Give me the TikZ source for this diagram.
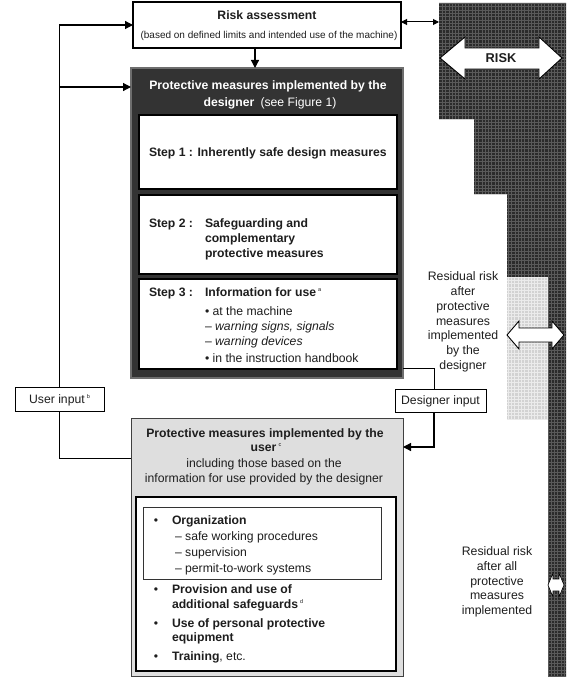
\documentclass[tikz,border=0pt]{standalone}
\usepackage{fontspec}
\setmainfont{Liberation Sans}
\usetikzlibrary{arrows.meta,calc}

\definecolor{panel}{HTML}{333333}
\definecolor{panelrim}{HTML}{6E6E6E}
\definecolor{userfill}{HTML}{DEDEDE}
\definecolor{riskdark}{HTML}{2B2B2B}
\definecolor{riskgrid}{HTML}{5A5A5A}
\definecolor{risklight}{HTML}{D2D2D2}
\definecolor{inktext}{HTML}{1E1E1E}

% small raised footnote marker
\newcommand\fnmk[1]{\raisebox{5pt}{\fontsize{5.5}{6}\selectfont #1}}

\begin{document}
\begin{tikzpicture}[x=1pt,y=-1pt,
  every node/.style={inner sep=0pt, outer sep=0pt, text=inktext},
  txt/.style={font=\fontsize{12.2}{15}\selectfont},
  btxt/.style={font=\fontsize{12.2}{15}\selectfont\bfseries},
  small/.style={font=\fontsize{10}{12}\selectfont},
  side/.style={font=\fontsize{12.3}{14.8}\selectfont, align=center},
  frame/.style={draw=black, line width=1.1pt, fill=white, anchor=north west},
  stepbox/.style={draw=black, line width=1.4pt, fill=white, anchor=north west},
  arr/.style={line width=1.2pt, -{Triangle[length=8pt,width=8pt]}},
  ln/.style={line width=0.9pt},
  dbl/.style={line width=1pt, {Triangle[length=6pt,width=6pt]}-{Triangle[length=6pt,width=6pt]}},
  bigarrow/.style={draw=black, line width=0.9pt, fill=white, line join=miter}
]
\useasboundingbox (0,0) rectangle (581,677);

% ---------- risk column on the right ----------
\fill[riskdark] (439,3) -- (566,3) -- (566,677) -- (548,677) -- (548,277)
  -- (507,277) -- (507,194) -- (474,194) -- (474,119) -- (439,119) -- cycle;
\begin{scope}
  \clip (439,3) -- (566,3) -- (566,677) -- (548,677) -- (548,277)
    -- (507,277) -- (507,194) -- (474,194) -- (474,119) -- (439,119) -- cycle;
  \draw[riskgrid, line width=0.45pt] (439,677) grid[step=3.3pt] (566,3);
\end{scope}
\fill[risklight] (507,277) rectangle (548,420);
\begin{scope}
  \clip (507,277) rectangle (548,420);
  \draw[white!92!black, line width=0.9pt] (507,420) grid[step=3.3pt] (548,277);
\end{scope}

% double arrows inside the column
\draw[bigarrow] (440,58) -- (465,37) -- (465,48) -- (539,48) -- (539,37) -- (562,58)
  -- (539,79) -- (539,69) -- (465,69) -- (465,79) -- cycle;
\node[font=\fontsize{12.8}{14}\selectfont\bfseries, anchor=base] (risk) at (501,63) {RISK};
\draw[bigarrow] (507,335) -- (519,321) -- (519,328) -- (552,328) -- (552,321) -- (564,335)
  -- (552,349) -- (552,342) -- (519,342) -- (519,349) -- cycle;
\draw[bigarrow, line width=0.6pt] (548,585) -- (553,573) -- (553,579) -- (559,579) -- (559,573)
  -- (564,585) -- (559,597) -- (559,591) -- (553,591) -- (553,597) -- cycle;

% residual risk labels
\node[side] (res1) at (463,322) {Residual risk\\after\\protective\\measures\\implemented\\by the\\designer};
\node[side] (res2) at (497,582) {Residual risk\\after all\\protective\\measures\\implemented};

% ---------- risk assessment ----------
\node[frame, minimum width=268pt, minimum height=46pt] (ra) at (133,2) {};
\node[btxt, anchor=base] (ra1) at (267,20) {Risk assessment};
\node[small, anchor=base] (ra2) at (269,38) {(based on defined limits and intended use of the machine)};
\coordinate (rk) at (439,22);
\draw[dbl] (ra.east |- rk) -- (rk);

% ---------- designer panel ----------
\node[draw=panelrim, line width=1.2pt, fill=panel, anchor=north west,
      minimum width=272pt, minimum height=310pt] (dz) at (131,68) {};
\node[btxt, text=white, anchor=base] (dz1) at (268,89)
  {Protective measures implemented by the};
\node[txt, text=white, anchor=base] (dz2) at (270,106)
  {\textbf{designer}\enspace (see Figure 1)};

\node[stepbox, minimum width=258pt, minimum height=74pt] (s1) at (139,115) {};
\node[btxt, anchor=base west] (s1t) at (149,156)
  {Step 1 : Inherently safe design measures};

\node[stepbox, minimum width=258pt, minimum height=79pt] (s2) at (139,195) {};
\node[btxt, anchor=base west] (s2a) at (149,227) {Step 2 :};
\node[btxt, anchor=base west] (s2b) at (205,227) {Safeguarding and};
\node[btxt, anchor=base west] (s2c) at (205,242) {complementary};
\node[btxt, anchor=base west] (s2d) at (205,257) {protective measures};

\node[stepbox, minimum width=258pt, minimum height=90pt] (s3) at (139,279) {};
\node[btxt, anchor=base west] (s3a) at (149,296) {Step 3 :};
\node[txt, anchor=base west] (s3b) at (205,296) {\textbf{Information for use}\,\fnmk{a}};
\node[txt, anchor=base west] (s3c) at (205,315) {\textbullet\ at the machine};
\node[txt, anchor=base west] (s3d) at (205,330) {-- \textit{warning signs, signals}};
\node[txt, anchor=base west] (s3e) at (205,345) {-- \textit{warning devices}};
\node[txt, anchor=base west] (s3f) at (205,362) {\textbullet\ in the instruction handbook};

% ---------- user panel ----------
\node[draw=black!75, line width=0.9pt, fill=userfill, anchor=north west,
      minimum width=272pt, minimum height=258pt] (ub) at (131,418) {};
\node[btxt, anchor=base] (ub1) at (265,437)
  {Protective measures implemented by the};
\node[txt, anchor=base] (ub2) at (266,451) {\textbf{user}\,\fnmk{c}};
\node[txt, anchor=base] (ub3) at (264,467) {including those based on the};
\node[txt, anchor=base] (ub4) at (264,482) {information for use provided by the designer};

\node[frame, line width=1.4pt, minimum width=260pt, minimum height=174pt] (ib) at (136,497) {};
\node[draw=black!80, line width=0.7pt, anchor=north west,
      minimum width=238pt, minimum height=72pt] (ob) at (143,507) {};

\node[txt, anchor=base] (b1) at (156,524) {\textbullet};
\node[btxt, anchor=base west] (o1) at (172,524) {Organization};
\node[txt, anchor=base west] (o2) at (175,540) {-- safe working procedures};
\node[txt, anchor=base west] (o3) at (175,556) {-- supervision};
\node[txt, anchor=base west] (o4) at (175,572) {-- permit-to-work systems};
\node[txt, anchor=base] (b2) at (156,593) {\textbullet};
\node[txt, anchor=base west] (p1) at (172,593) {\textbf{Provision and use of}};
\node[txt, anchor=base west] (p2) at (172,608) {\textbf{additional safeguards}\,\fnmk{d}};
\node[txt, anchor=base] (b3) at (156,627) {\textbullet};
\node[btxt, anchor=base west] (q1) at (172,627) {Use of personal protective};
\node[btxt, anchor=base west] (q2) at (172,641) {equipment};
\node[txt, anchor=base] (b4) at (156,660) {\textbullet};
\node[txt, anchor=base west] (t1) at (172,660) {\textbf{Training}, etc.};

% ---------- inputs ----------
\node[frame, line width=0.9pt, minimum width=89pt, minimum height=24pt] (ui) at (15,387) {};
\node[txt, anchor=base] (uit) at (59.5,403.5) {User input\,\fnmk{b}};
\node[frame, line width=0.9pt, minimum width=91pt, minimum height=23pt] (di) at (395,389) {};
\node[txt, anchor=base] (dit) at (440.5,404.5) {Designer input};

% ---------- connectors ----------
\coordinate (a1) at (255,48);
\draw[arr] (a1) -- (a1 |- dz.north);

\draw[arr] (ui.north) |- (ra.west);
\coordinate (j2) at (59.5,87);
\draw[arr] (j2) -- (j2 -| dz.west);
\coordinate (ubj) at (131,458);
\draw[ln] (ui.south) |- (ubj);

\coordinate (dzj) at (403,368);
\coordinate (dij) at (434,389);
\draw[ln] (dzj) -| (dij);
\coordinate (dik) at (434,412);
\coordinate (ubk) at (403,447);
\draw[arr] (dik) |- (ubk);
\end{tikzpicture}
\end{document}
